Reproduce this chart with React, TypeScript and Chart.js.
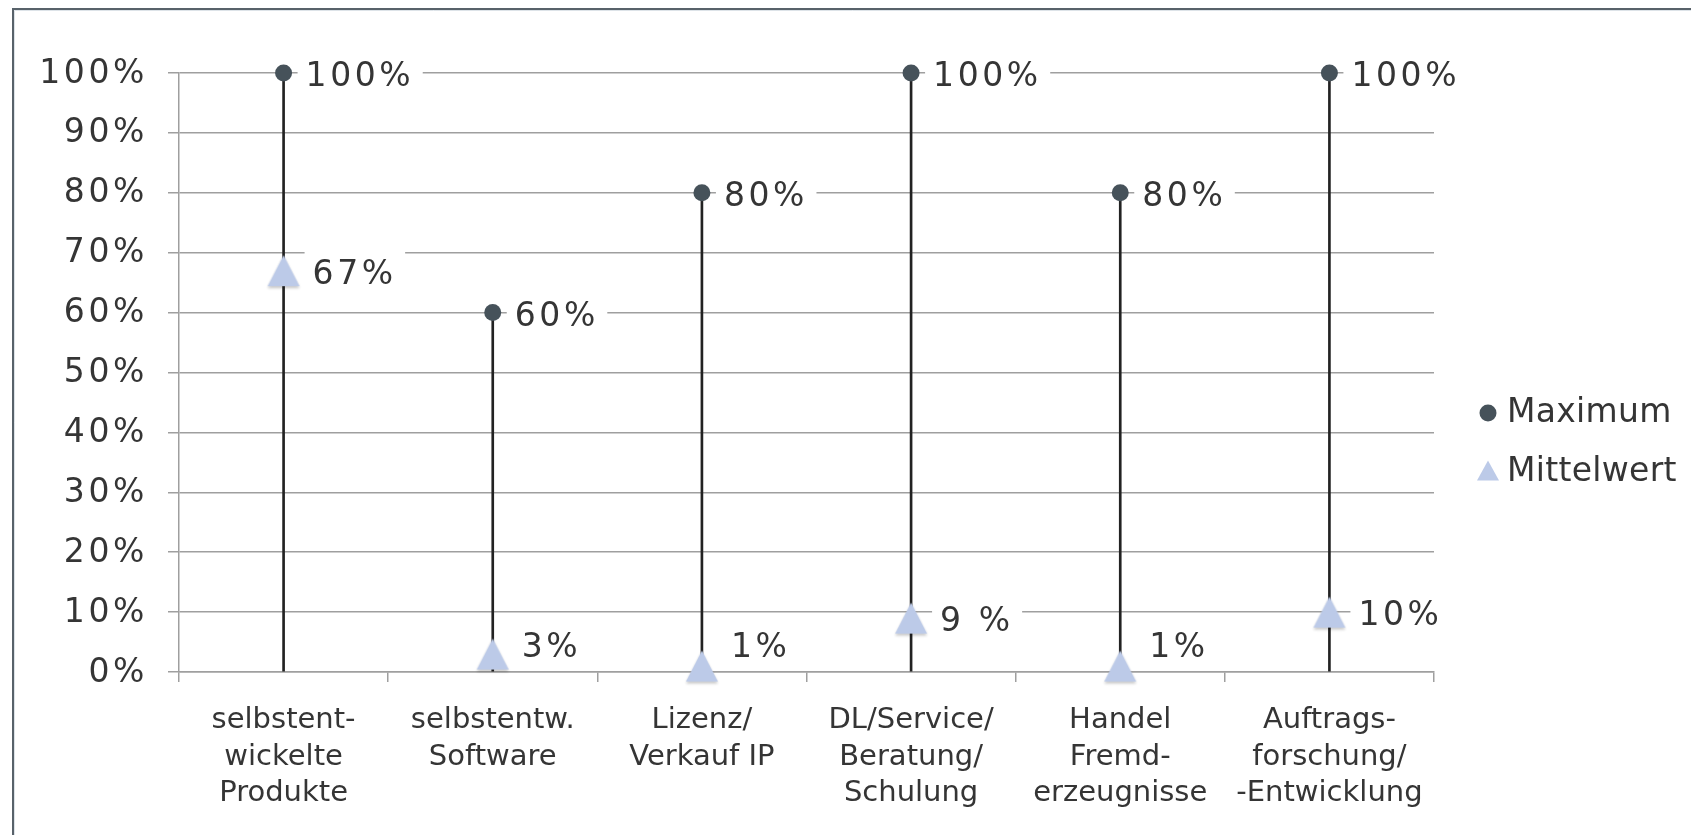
import React, { useEffect, useRef } from 'react';
import { Chart, registerables } from 'chart.js';

Chart.register(...registerables);

// ---------- data ----------
const categories: string[][] = [
  ['selbstent-', 'wickelte', 'Produkte'],
  ['selbstentw.', 'Software'],
  ['Lizenz/', 'Verkauf IP'],
  ['DL/Service/', 'Beratung/', 'Schulung'],
  ['Handel', 'Fremd-', 'erzeugnisse'],
  ['Auftrags-', 'forschung/', '-Entwicklung'],
];
const maximumValues = [100, 60, 80, 100, 80, 100];
const meanValues = [67, 3, 1, 9, 1, 10];
const maximumLabels = ['100%', '60%', '80%', '100%', '80%', '100%'];
const meanLabels = ['67%', '3%', '1%', '9 %', '1%', '10%'];
const seriesNames = ['Maximum', 'Mittelwert'];
const yMin = 0;
const yMax = 100;
const yStep = 10;

// ---------- styles ----------
const FONT = '"DejaVu Sans", sans-serif';
const TEXT = '#353535';
const GRID = '#9f9f9f';
const MAX_COLOR = '#46525a';
const MEAN_COLOR = '#bccae8';
const STEM_COLOR = '#222222';
const DIGIT_SPACING = 3.6;

function makeTriangle(w: number, h: number, color: string, shadow: boolean) {
  const pad = 6;
  const c = document.createElement('canvas');
  c.width = w + pad * 2;
  c.height = h + pad * 2;
  const g = c.getContext('2d')!;
  if (shadow) {
    g.shadowColor = 'rgba(0,0,0,0.22)';
    g.shadowBlur = 3;
    g.shadowOffsetY = 2;
  }
  g.fillStyle = color;
  g.beginPath();
  g.moveTo(pad + w / 2, pad);
  g.lineTo(pad + w, pad + h);
  g.lineTo(pad, pad + h);
  g.closePath();
  g.fill();
  return c;
}

const framePlugin = {
  id: 'frame',
  beforeDraw(chart: any) {
    const ctx = chart.ctx;
    ctx.save();
    ctx.strokeStyle = '#58626a';
    ctx.lineWidth = 2;
    ctx.beginPath();
    ctx.moveTo(13, chart.height);
    ctx.lineTo(13, 9);
    ctx.lineTo(chart.width, 9);
    ctx.stroke();
    ctx.strokeStyle = '#dde3e8';
    ctx.lineWidth = 1;
    ctx.beginPath();
    ctx.moveTo(14.5, chart.height);
    ctx.lineTo(14.5, 10.5);
    ctx.lineTo(chart.width, 10.5);
    ctx.stroke();
    ctx.restore();
    // spacing for the y tick labels (drawn before datasets)
    (ctx as any).letterSpacing = `${DIGIT_SPACING}px`;
  },
};

const dataLabelPlugin = {
  id: 'pointLabels',
  afterDatasetsDraw(chart: any) {
    const ctx = chart.ctx;
    const limit = chart.chartArea.bottom - 28;
    chart.data.datasets.forEach((ds: any, di: number) => {
      if (!ds.pointLabels) return;
      const meta = chart.getDatasetMeta(di);
      meta.data.forEach((pt: any, i: number) => {
        const text = ds.pointLabels[i];
        ctx.save();
        ctx.font = `33px ${FONT}`;
        (ctx as any).letterSpacing = `${DIGIT_SPACING}px`;
        const w = ctx.measureText(text).width - DIGIT_SPACING;
        const x = pt.x + ds.labelOffset;
        const y = Math.min(pt.y, limit);
        ctx.fillStyle = '#ffffff';
        ctx.fillRect(x - 8, y - 20, w + 20, 40);
        ctx.fillStyle = TEXT;
        ctx.textAlign = 'left';
        ctx.textBaseline = 'alphabetic';
        ctx.fillText(text, x, y + 13);
        ctx.restore();
      });
    });
    // spacing for the x tick labels (drawn after datasets)
    (ctx as any).letterSpacing = '0px';
  },
};

const legendPlugin = {
  id: 'sideLegend',
  afterDraw(chart: any) {
    const ctx = chart.ctx;
    const markerX = chart.chartArea.right + 54;
    const textX = chart.chartArea.right + 73;
    const firstBaseline = 421.5;
    const gap = 59;
    const items = chart.data.datasets.filter((d: any) => d.type === 'line');
    ctx.save();
    (ctx as any).letterSpacing = '0.3px';
    ctx.font = `33px ${FONT}`;
    ctx.textAlign = 'left';
    ctx.textBaseline = 'alphabetic';
    items.forEach((ds: any, i: number) => {
      const base = firstBaseline + i * gap;
      ctx.fillStyle = ds.legendColor;
      ctx.beginPath();
      if (ds.legendShape === 'circle') {
        const r = 8.5;
        ctx.arc(markerX, base - r, r, 0, Math.PI * 2);
      } else {
        const w = 22;
        const h = 20;
        ctx.moveTo(markerX, base - h);
        ctx.lineTo(markerX + w / 2, base);
        ctx.lineTo(markerX - w / 2, base);
        ctx.closePath();
      }
      ctx.fill();
      ctx.fillStyle = TEXT;
      ctx.fillText(ds.label, textX, base);
    });
    ctx.restore();
  },
};

export default function App() {
  const ref = useRef<HTMLCanvasElement>(null);

  useEffect(() => {
    const canvas = ref.current!;
    const tri = makeTriangle(32, 31, MEAN_COLOR, true);

    const chart = new Chart(canvas, {
      type: 'bar',
      data: {
        labels: categories,
        datasets: [
          {
            type: 'line',
            label: seriesNames[0],
            data: maximumValues,
            showLine: false,
            pointStyle: 'circle',
            pointRadius: 8.5,
            pointBorderWidth: 0,
            pointBackgroundColor: MAX_COLOR,
            pointBorderColor: MAX_COLOR,
            order: 1,
            clip: false,
            pointLabels: maximumLabels,
            labelOffset: 22,
            legendColor: MAX_COLOR,
            legendShape: 'circle',
          } as any,
          {
            type: 'line',
            label: seriesNames[1],
            data: meanValues,
            showLine: false,
            pointStyle: tri,
            pointRadius: 16,
            pointBorderWidth: 0,
            pointBackgroundColor: MEAN_COLOR,
            order: 0,
            clip: false,
            pointLabels: meanLabels,
            labelOffset: 29,
            legendColor: MEAN_COLOR,
            legendShape: 'triangle',
          } as any,
          {
            type: 'bar',
            label: 'Spanne',
            data: maximumValues,
            backgroundColor: STEM_COLOR,
            borderWidth: 0,
            barThickness: 2,
            order: 2,
          } as any,
        ],
      },
      options: {
        responsive: false,
        devicePixelRatio: 1,
        animation: false,
        events: [],
        layout: { padding: { left: 0, top: 73, right: 257, bottom: 0 } },
        plugins: {
          legend: { display: false },
          tooltip: { enabled: false },
          title: { display: false },
        },
        scales: {
          x: {
            type: 'category',
            offset: true,
            grid: {
              display: true,
              offset: true,
              drawOnChartArea: false,
              drawTicks: true,
              tickLength: 10,
              color: GRID,
              lineWidth: 1.5,
            },
            border: { display: true, color: GRID, width: 1.5 },
            ticks: {
              autoSkip: false,
              maxRotation: 0,
              minRotation: 0,
              padding: 20,
              color: TEXT,
              font: { family: FONT, size: 29, lineHeight: '36.7px' as any },
              z: 1,
            },
            afterFit: (s: any) => {
              s.height = 163;
              s.paddingLeft = 0;
              s.paddingRight = 0;
            },
          } as any,
          y: {
            min: yMin,
            max: yMax,
            grid: {
              color: GRID,
              lineWidth: 1.5,
              drawTicks: true,
              tickLength: 11,
            },
            border: { display: true, color: GRID, width: 1.5 },
            ticks: {
              stepSize: yStep,
              padding: 20,
              labelOffset: 1,
              color: TEXT,
              font: { family: FONT, size: 33 },
              callback: (v: any) => `${v}%`,
            },
            afterFit: (s: any) => {
              s.width = 179;
              s.paddingTop = 0;
              s.paddingBottom = 0;
            },
          } as any,
        },
      },
      plugins: [framePlugin, dataLabelPlugin, legendPlugin],
    });

    return () => chart.destroy();
  }, []);

  return (
    <div style={{ position: 'fixed', left: 0, top: 0, width: 1691, height: 835, background: '#ffffff' }}>
      <canvas ref={ref} width={1691} height={835} style={{ display: 'block', width: 1691, height: 835 }} />
    </div>
  );
}
